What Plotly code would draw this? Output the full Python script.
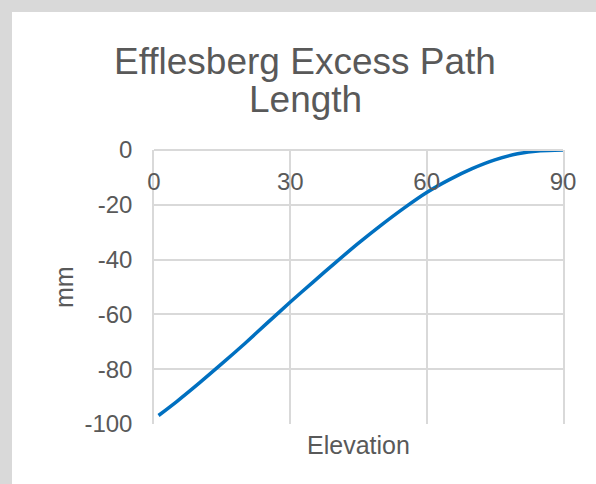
import plotly.graph_objects as go

# Data
elevation = [1, 5, 10, 15, 20, 25, 30, 35, 40, 45, 50, 55, 60, 65, 70, 75, 80, 85, 90]
excess_mm = [-96.9, -91.8, -85.0, -77.9, -70.6, -63.0, -55.5, -48.2, -41.0, -34.0,
             -27.4, -21.2, -15.5, -10.8, -6.8, -3.6, -1.4, -0.3, 0.0]
x_ticks = [0, 30, 60, 90]
y_ticks = [0, -20, -40, -60, -80, -100]
title_lines = ["Efflesberg Excess Path", "Length"]
x_title = "Elevation"
y_title = "mm"

W, H = 596, 484
L, R, T, B = 154, 33, 150, 60
pw, ph = W - L - R, H - T - B

def px_x(p):
    return (p - L) / pw

def px_y(p):
    return (H - B - p) / ph

FONT = "Liberation Sans, Arial, sans-serif"
TXT = "#595959"
GRID = "#d9d9d9"

fig = go.Figure()
fig.add_trace(go.Scatter(
    x=elevation, y=excess_mm, mode="lines",
    line=dict(color="#0070c0", width=3.5, shape="spline", smoothing=0.6),
    showlegend=False, hoverinfo="skip"))

fig.update_layout(
    width=W, height=H,
    margin=dict(l=L, r=R, t=T, b=B, autoexpand=False),
    paper_bgcolor="white", plot_bgcolor="white",
    font=dict(family=FONT, color=TXT, size=24),
    xaxis=dict(range=[0, 90], tickvals=x_ticks, ticktext=[str(v) for v in x_ticks],
               showgrid=True, gridcolor=GRID, gridwidth=1.5, zeroline=False,
               showline=True, linecolor=GRID, linewidth=1.5, mirror=True,
               anchor="free", position=1, side="bottom", ticks="",
               ticklabelstandoff=10, tickfont=dict(size=24, color=TXT)),
    yaxis=dict(range=[-100, 0], tickvals=y_ticks, ticktext=[str(v) for v in y_ticks],
               showgrid=True, gridcolor=GRID, gridwidth=1.5, zeroline=False,
               showline=True, linecolor=GRID, linewidth=1.5, mirror=True,
               ticks="", ticklabelstandoff=15, tickfont=dict(size=24, color=TXT)),
    shapes=[
        dict(type="rect", xref="paper", yref="paper", layer="below",
             x0=px_x(0), x1=px_x(W), y0=px_y(12), y1=px_y(0),
             fillcolor="#d9d9d9", line=dict(width=0)),
        dict(type="rect", xref="paper", yref="paper", layer="below",
             x0=px_x(0), x1=px_x(12), y0=px_y(H), y1=px_y(0),
             fillcolor="#d9d9d9", line=dict(width=0)),
    ],
    annotations=[
        dict(text=title_lines[0], x=px_x(305), y=px_y(61), xref="paper", yref="paper",
             xanchor="center", yanchor="middle", showarrow=False,
             font=dict(size=37, color=TXT, family=FONT)),
        dict(text=title_lines[1], x=px_x(305), y=px_y(100), xref="paper", yref="paper",
             xanchor="center", yanchor="middle", showarrow=False,
             font=dict(size=37, color=TXT, family=FONT)),
        dict(text=x_title, x=0.5, y=px_y(445), xref="paper", yref="paper",
             xanchor="center", yanchor="middle", showarrow=False,
             font=dict(size=25, color=TXT, family=FONT)),
        dict(text=y_title, x=px_x(64), y=0.5, xref="paper", yref="paper",
             xanchor="center", yanchor="middle", showarrow=False, textangle=-90,
             font=dict(size=25, color=TXT, family=FONT)),
    ],
)

fig.write_html("out.html", config={"displayModeBar": False},
               post_script="document.body.style.margin='0';document.body.style.padding='0';")
